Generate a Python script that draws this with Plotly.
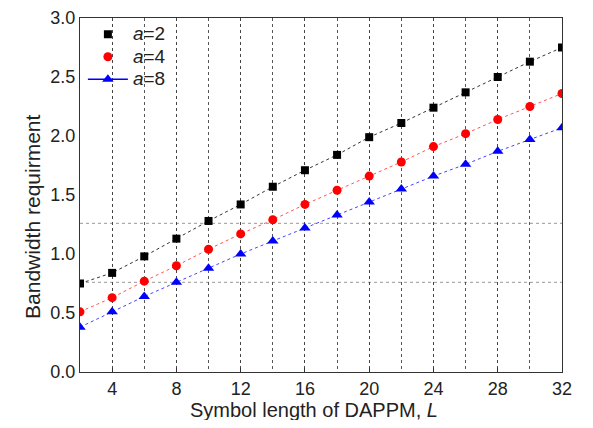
import plotly.graph_objects as go

L = [2, 4, 6, 8, 10, 12, 14, 16, 18, 20, 22, 24, 26, 28, 30, 32]
a2 = [0.75, 0.84, 0.98, 1.13, 1.28, 1.42, 1.57, 1.71, 1.84, 1.99, 2.11, 2.24, 2.37, 2.50, 2.63, 2.75]
a4 = [0.51, 0.63, 0.77, 0.90, 1.04, 1.17, 1.29, 1.42, 1.54, 1.66, 1.78, 1.91, 2.02, 2.14, 2.25, 2.36]
a8 = [0.38, 0.51, 0.64, 0.76, 0.88, 1.00, 1.11, 1.22, 1.33, 1.44, 1.55, 1.66, 1.76, 1.87, 1.97, 2.07]
hlines = [0.76, 1.26]
x_ticks = [4, 8, 12, 16, 20, 24, 28, 32]
y_ticks = [0.0, 0.5, 1.0, 1.5, 2.0, 2.5, 3.0]

font = "Liberation Sans, Arial, sans-serif"

fig = go.Figure()

series = [
    (a2, "black", "#333333", "square", 8),
    (a4, "red", "#ff5555", "circle", 9),
    (a8, "blue", "#4444ff", "triangle-up", 10),
]
for ys, col, lcol, sym, sz in series:
    fig.add_trace(go.Scatter(
        x=L, y=ys, mode="lines+markers", showlegend=False,
        line=dict(color=lcol, width=1, dash="dot"),
        marker=dict(color=col, symbol=sym, size=sz),
    ))

# legend-only entries
LEG = '<span style="font-size:19px"><i>a</i>=%d</span>'
fig.add_trace(go.Scatter(x=[None], y=[None], mode="markers", name=LEG % 2,
                         marker=dict(color="black", symbol="square", size=8)))
fig.add_trace(go.Scatter(x=[None], y=[None], mode="markers", name=LEG % 4,
                         marker=dict(color="red", symbol="circle", size=9)))
fig.add_trace(go.Scatter(x=[None], y=[None], mode="lines+markers", name=LEG % 8,
                         line=dict(color="blue", width=1.5),
                         marker=dict(color="blue", symbol="triangle-up", size=10)))

for h in hlines:
    fig.add_shape(type="line", xref="x", yref="y", x0=L[0], x1=L[-1], y0=h, y1=h,
                  line=dict(color="#999999", width=1, dash="dot"), layer="below")

# axis titles as annotations for precise placement
fig.add_annotation(text="Symbol length of DAPPM, <i>L</i>", xref="paper", yref="paper",
                   x=0.485, y=-0.107, xanchor="center", yanchor="middle",
                   showarrow=False, font=dict(size=20, color="#222222"))
fig.add_annotation(text="Bandwidth requirment", xref="paper", yref="paper",
                   x=0, y=0.438, xshift=-47, xanchor="center", yanchor="middle",
                   textangle=-90, showarrow=False, font=dict(size=21, color="#222222"))

fig.update_layout(
    width=577, height=412,
    margin=dict(l=72, r=23, t=10, b=48, autoexpand=False),
    paper_bgcolor="white", plot_bgcolor="white",
    font=dict(family=font, size=18, color="#222222"),
    legend=dict(x=0.006, y=1.0, xanchor="left", yanchor="top",
                bgcolor="rgba(255,255,255,0)", font=dict(size=15),
                itemwidth=40, tracegroupgap=0),
    xaxis=dict(
        range=[2, 32], tickvals=x_ticks, automargin=False,
        showline=True, linecolor="#333333", linewidth=1, mirror=True,
        ticks="inside", ticklen=4, tickcolor="#333333",
        showgrid=True, gridcolor="#444444", griddash="dot", gridwidth=1,
        minor=dict(dtick=2, tick0=0, showgrid=True, gridcolor="#555555",
                   griddash="dot", gridwidth=1),
        zeroline=False,
        tickfont=dict(size=18),
    ),
    yaxis=dict(
        range=[0, 3.0], tickvals=y_ticks, tickformat=".1f", automargin=False,
        showline=True, linecolor="#333333", linewidth=1, mirror=True,
        ticks="", showgrid=False, zeroline=False,
        tickfont=dict(size=18),
    ),
)

fig.write_html("out.html")
